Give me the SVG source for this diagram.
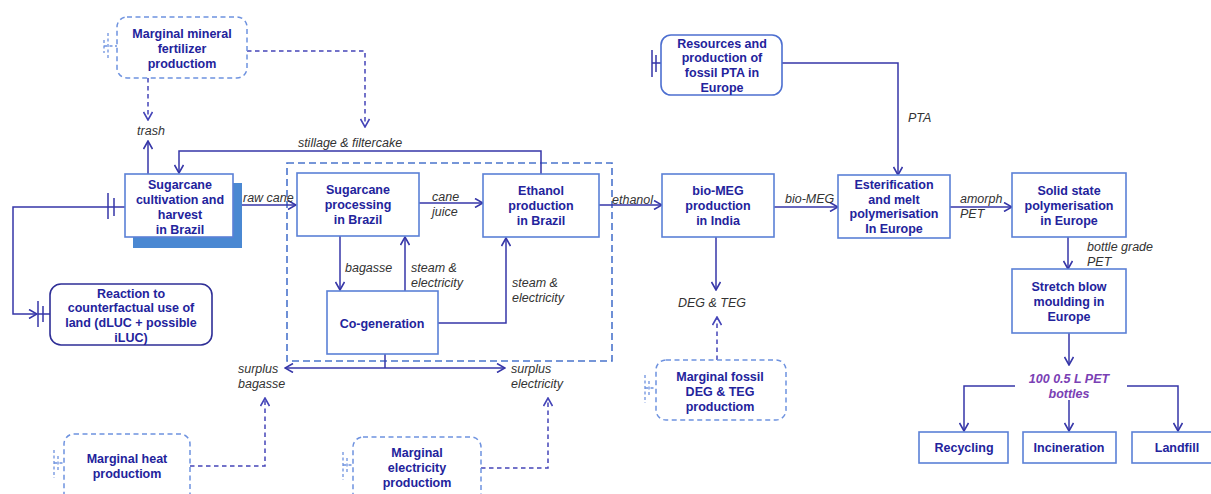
<svg xmlns="http://www.w3.org/2000/svg" width="1211" height="494" viewBox="0 0 1211 494">
  <defs>
    <marker id="arr" viewBox="0 0 10 10" refX="9" refY="5" markerWidth="10" markerHeight="10" markerUnits="userSpaceOnUse" orient="auto">
      <path d="M1,0.5 L9,5 L1,9.5" fill="none" stroke="#3636a8" stroke-width="1.6"/>
    </marker>
    <marker id="arrd" viewBox="0 0 10 10" refX="9" refY="5" markerWidth="10" markerHeight="10" markerUnits="userSpaceOnUse" orient="auto">
      <path d="M1,0.5 L9,5 L1,9.5" fill="none" stroke="#4444b8" stroke-width="1.6"/>
    </marker>
    <style>
      .box { fill: #ffffff; stroke: #5b80d6; stroke-width: 1.6; }
      .rbox { fill: #ffffff; stroke: #4d6fd0; stroke-width: 1.6; }
      .lbox { fill: #ffffff; stroke: #2e2e96; stroke-width: 1.6; }
      .dbox { fill: #ffffff; stroke: #6e92df; stroke-width: 1.5; stroke-dasharray: 5 3.5; }
      .bound { fill: none; stroke: #4a74cc; stroke-width: 1.6; stroke-dasharray: 7 4; }
      .c { fill: none; stroke: #3636a8; stroke-width: 1.5; }
      .cd { fill: none; stroke: #4444b8; stroke-width: 1.5; stroke-dasharray: 4.5 3.5; }
      .tee { fill: none; stroke: #3636a8; stroke-width: 1.5; }
      .teed { fill: none; stroke: #6e92df; stroke-width: 1.3; stroke-dasharray: 3 2.5; }
      .t { font-family: "Liberation Sans", Arial, sans-serif; font-size: 12.5px; font-weight: bold; fill: #23239c; text-anchor: middle; }
      .l { font-family: "Liberation Sans", Arial, sans-serif; font-size: 12.5px; font-style: italic; fill: #333333; }
      .lm { text-anchor: middle; }
      .p { font-family: "Liberation Sans", Arial, sans-serif; font-size: 12.5px; font-weight: bold; font-style: italic; fill: #7a40b4; text-anchor: middle; }
    </style>
  </defs>

  <!-- system boundary of the Brazilian mill -->
  <rect class="bound" x="287" y="163" width="325" height="198"/>

  <!-- connectors -->
  <g id="connectors">
    <path class="c" d="M148,174 V141" marker-end="url(#arr)"/>
    <path class="c" d="M541,174 V151 H179 V173" marker-end="url(#arr)"/>
    <path class="c" d="M233,205 H296" marker-end="url(#arr)"/>
    <path class="c" d="M419,203 H483" marker-end="url(#arr)"/>
    <path class="c" d="M340,236 V290" marker-end="url(#arr)"/>
    <path class="c" d="M405,291 V237" marker-end="url(#arr)"/>
    <path class="c" d="M438,323 H506 V238" marker-end="url(#arr)"/>
    <path class="c" d="M385,354 V368"/>
    <path class="c" d="M385,368 H285" marker-end="url(#arr)"/>
    <path class="c" d="M385,368 H505" marker-end="url(#arr)"/>
    <!-- land use link -->
    <path class="c" d="M125,207 H13 V314 H37" marker-end="url(#arr)"/>
    <path class="c" d="M38,314 H50"/>
    <path class="tee" d="M108,193 V219 M114,198 V216"/>
    <path class="tee" d="M38,301 V327 M43,306 V322"/>
    <path class="c" d="M599,205 H662" marker-end="url(#arr)"/>
    <path class="c" d="M774,207 H838" marker-end="url(#arr)"/>
    <path class="c" d="M782,63 H898 V175" marker-end="url(#arr)"/>
    <path class="tee" d="M661,63 H652 M652,50 V77 M656,55 V72"/>
    <path class="c" d="M950,207 H1012" marker-end="url(#arr)"/>
    <path class="c" d="M1068,237 V269" marker-end="url(#arr)"/>
    <path class="c" d="M1069,333 V365" marker-end="url(#arr)"/>
    <path class="c" d="M1015,386 H964 V431" marker-end="url(#arr)"/>
    <path class="c" d="M1069,400 V431" marker-end="url(#arr)"/>
    <path class="c" d="M1127,386 H1178 V431" marker-end="url(#arr)"/>
    <path class="c" d="M716,237 V290" marker-end="url(#arr)"/>
    <!-- substituted marginal supplies -->
    <path class="cd" d="M148,78 V120" marker-end="url(#arrd)"/>
    <path class="cd" d="M247,51 H365 V127" marker-end="url(#arrd)"/>
    <path class="cd" d="M190,466 H265 V398" marker-end="url(#arrd)"/>
    <path class="cd" d="M481,468 H548 V398" marker-end="url(#arrd)"/>
    <path class="cd" d="M717,360 V317" marker-end="url(#arrd)"/>
  </g>

  <!-- connector labels -->
  <g id="labels">
    <text class="l lm" x="151" y="135">trash</text>
    <text class="l lm" x="350" y="147">stillage &amp; filtercake</text>
    <text class="l" x="243" y="202">raw cane</text>
    <text class="l" x="432" y="201">cane</text>
    <text class="l" x="432" y="216">juice</text>
    <text class="l" x="345" y="272">bagasse</text>
    <text class="l" x="411" y="272">steam &amp;</text>
    <text class="l" x="411" y="287">electricity</text>
    <text class="l" x="512" y="287">steam &amp;</text>
    <text class="l" x="512" y="302">electricity</text>
    <text class="l" x="238" y="373">surplus</text>
    <text class="l" x="238" y="388">bagasse</text>
    <text class="l" x="511" y="373">surplus</text>
    <text class="l" x="511" y="388">electricity</text>
    <text class="l" x="612" y="204">ethanol</text>
    <text class="l" x="785" y="203">bio-MEG</text>
    <text class="l" x="908" y="122">PTA</text>
    <text class="l" x="960" y="203">amorph</text>
    <text class="l" x="960" y="218">PET</text>
    <text class="l" x="1087" y="251">bottle grade</text>
    <text class="l" x="1087" y="266">PET</text>
    <text class="l lm" x="712" y="307">DEG &amp; TEG</text>
    <text class="p" x="1069" y="383">100 0.5 L PET</text>
    <text class="p" x="1069" y="398">bottles</text>
  </g>

  <g id="n-fertilizer">
    <path class="teed" d="M108,33 V60 M104,40 V53 M104,46 H117"/>
    <rect class="dbox" x="117" y="17" width="130" height="61" rx="10"/>
    <text class="t" x="182" y="38">Marginal mineral</text>
    <text class="t" x="182" y="53">fertilizer</text>
    <text class="t" x="182" y="68">productiom</text>
  </g>

  <g id="n-cultivation">
    <rect x="133" y="183" width="109" height="65" fill="#4a88d2"/>
    <rect class="box" x="125" y="174" width="108" height="63"/>
    <text class="t" x="180" y="189">Sugarcane</text>
    <text class="t" x="180" y="204">cultivation and</text>
    <text class="t" x="180" y="219">harvest</text>
    <text class="t" x="180" y="234">in Brazil</text>
  </g>

  <g id="n-land">
    <rect class="lbox" x="50" y="284" width="162" height="61" rx="11"/>
    <text class="t" x="131" y="298">Reaction to</text>
    <text class="t" x="131" y="312">counterfactual use of</text>
    <text class="t" x="131" y="327">land (dLUC + possible</text>
    <text class="t" x="131" y="342">iLUC)</text>
  </g>

  <g id="n-processing">
    <rect class="box" x="297" y="173" width="122" height="63"/>
    <text class="t" x="358" y="194">Sugarcane</text>
    <text class="t" x="358" y="209">processing</text>
    <text class="t" x="358" y="224">in Brazil</text>
  </g>

  <g id="n-ethanol">
    <rect class="box" x="483" y="174" width="116" height="63"/>
    <text class="t" x="541" y="195">Ethanol</text>
    <text class="t" x="541" y="210">production</text>
    <text class="t" x="541" y="225">in Brazil</text>
  </g>

  <g id="n-cogeneration">
    <rect class="box" x="327" y="291" width="111" height="63"/>
    <text class="t" x="382" y="328">Co-generation</text>
  </g>

  <g id="n-heat">
    <path class="teed" d="M54,450 V478 M58,456 V470 M54,463 H64"/>
    <rect class="dbox" x="64" y="434" width="126" height="70" rx="10"/>
    <text class="t" x="127" y="463">Marginal heat</text>
    <text class="t" x="127" y="478">productiom</text>
  </g>

  <g id="n-electricity">
    <path class="teed" d="M343,452 V480 M347,458 V472 M343,465 H353"/>
    <rect class="dbox" x="353" y="437" width="128" height="67" rx="10"/>
    <text class="t" x="417" y="457">Marginal</text>
    <text class="t" x="417" y="472">electricity</text>
    <text class="t" x="417" y="487">productiom</text>
  </g>

  <g id="n-biomeg">
    <rect class="box" x="662" y="174" width="112" height="63"/>
    <text class="t" x="718" y="195">bio-MEG</text>
    <text class="t" x="718" y="210">production</text>
    <text class="t" x="718" y="225">in India</text>
  </g>

  <g id="n-fossil-degteg">
    <path class="teed" d="M645,375 V403 M649,381 V395 M645,388 H656"/>
    <rect class="dbox" x="656" y="360" width="130" height="60" rx="10"/>
    <text class="t" x="720" y="381">Marginal fossil</text>
    <text class="t" x="720" y="396">DEG &amp; TEG</text>
    <text class="t" x="720" y="411">productiom</text>
  </g>

  <g id="n-pta">
    <rect class="rbox" x="661" y="35" width="121" height="60" rx="10"/>
    <text class="t" x="722" y="48">Resources and</text>
    <text class="t" x="722" y="62">production of</text>
    <text class="t" x="722" y="77">fossil PTA in</text>
    <text class="t" x="722" y="92">Europe</text>
  </g>

  <g id="n-esterification">
    <rect class="box" x="838" y="175" width="112" height="63"/>
    <text class="t" x="894" y="189">Esterification</text>
    <text class="t" x="894" y="204">and melt</text>
    <text class="t" x="894" y="218">polymerisation</text>
    <text class="t" x="894" y="233">In Europe</text>
  </g>

  <g id="n-ssp">
    <rect class="box" x="1012" y="173" width="114" height="64"/>
    <text class="t" x="1069" y="195">Solid state</text>
    <text class="t" x="1069" y="210">polymerisation</text>
    <text class="t" x="1069" y="225">in Europe</text>
  </g>

  <g id="n-blowmoulding">
    <rect class="box" x="1012" y="269" width="114" height="64"/>
    <text class="t" x="1069" y="291">Stretch blow</text>
    <text class="t" x="1069" y="306">moulding in</text>
    <text class="t" x="1069" y="321">Europe</text>
  </g>

  <g id="n-recycling">
    <rect class="box" x="919" y="432" width="89" height="31"/>
    <text class="t" x="964" y="452">Recycling</text>
  </g>

  <g id="n-incineration">
    <rect class="box" x="1023" y="432" width="93" height="31"/>
    <text class="t" x="1069" y="452">Incineration</text>
  </g>

  <g id="n-landfill">
    <rect class="box" x="1132" y="432" width="90" height="31"/>
    <text class="t" x="1177" y="452">Landfill</text>
  </g>
</svg>
